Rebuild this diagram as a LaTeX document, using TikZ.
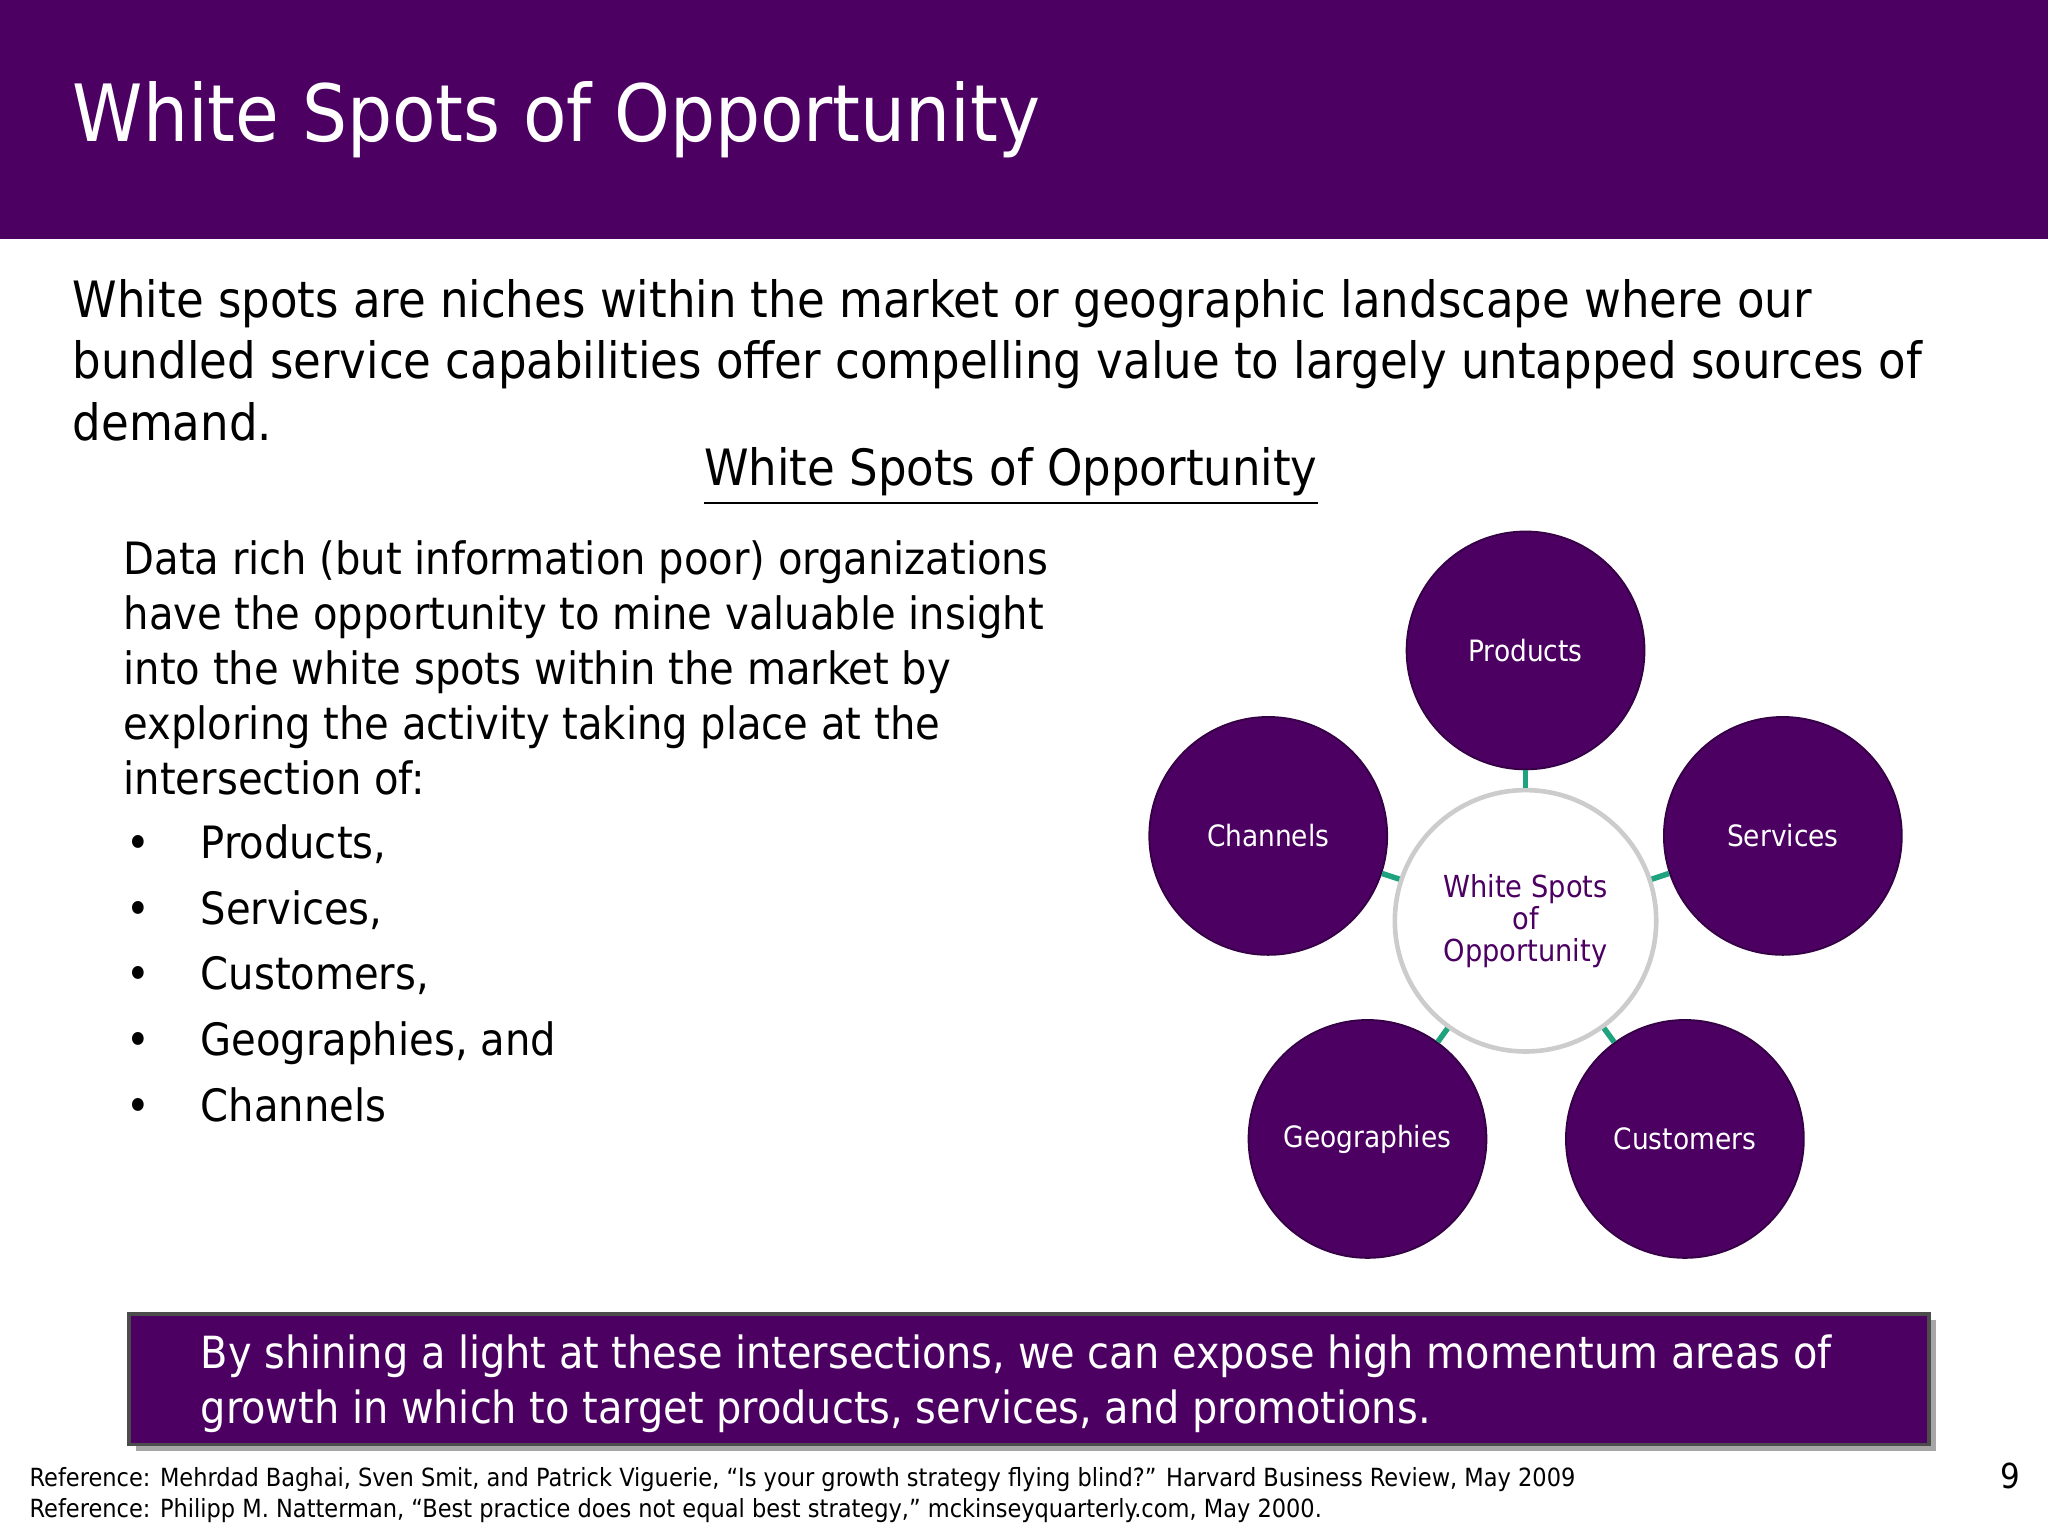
\documentclass[tikz,border=0pt]{standalone}
\usepackage{fontspec}
\setmainfont{DejaVu Sans Condensed}
\definecolor{purp}{HTML}{4B0062}
\definecolor{grn}{HTML}{1FA37E}
\begin{document}
\begin{tikzpicture}[x=0.01cm,y=-0.01cm,
  txt/.style={anchor=base west,inner sep=0},
  bub/.style={circle,fill=purp,draw=purp!70!black,minimum size=1.82cm,inner sep=0,text=white,font=\fontsize{6.4}{8}\selectfont},
  link/.style={grn,line width=1.2pt}]
\useasboundingbox (0,0) rectangle (1568,1176);
\fill[purp] (0,0) rectangle (1568,183);
\node[txt,text=white,font=\fontsize{17.2}{20}\selectfont] (title) at (55,108) {White Spots of Opportunity};
\node[txt,font=\fontsize{10.9}{13}\selectfont] (intro) at (55,243) {White spots are niches within the market or geographic landscape where our};
\node[txt,font=\fontsize{10.9}{13}\selectfont] (intro2) at (55,290) {bundled service capabilities offer compelling value to largely untapped sources of};
\node[txt,font=\fontsize{10.9}{13}\selectfont] (intro3) at (55,337) {demand.};
\node[anchor=base,inner sep=0,font=\fontsize{10.9}{13}\selectfont] (sub) at (774,372) {\underline{White Spots of Opportunity}};
\foreach \t [count=\i] in {Data rich (but information poor) organizations,have the opportunity to mine valuable insight,into the white spots within the market by,exploring the activity taking place at the,intersection of:}
  \node[txt,font=\fontsize{9.7}{12}\selectfont] (l\i) at (94,398+42*\i) {\t};
\foreach \t [count=\i] in {{Products,},{Services,},{Customers,},{Geographies, and},{Channels}}{
  \node[txt,font=\fontsize{9.7}{12}\selectfont] (bu\i) at (96,607+50.3*\i) {•};
  \node[txt,font=\fontsize{9.7}{12}\selectfont] (b\i) at (153,607+50.3*\i) {\t};}
\node[circle,fill=white,draw=gray!40,line width=1pt,minimum size=2.0cm,inner sep=0,text=purp,align=center,font=\fontsize{6.6}{7}\selectfont] (c) at (1168,705) {White Spots\\of\\Opportunity};
\node[bub] (p) at (1168,498) {Products};
\node[bub] (ch) at (971,640) {Channels};
\node[bub] (s) at (1365,640) {Services};
\node[bub] (g) at (1047,872) {Geographies};
\node[bub] (cu) at (1290,872) {Customers};
\foreach \n in {p,ch,s,g,cu} \draw[link] (c) -- (\n);
\fill[black!35] (104,1011) rectangle (1482,1111);
\draw[fill=purp,draw=black!70,line width=0.8pt] (99,1006) rectangle (1477,1106);
\node[txt,text=white,font=\fontsize{9.65}{12}\selectfont] (bt1) at (153,1048) {By shining a light at these intersections, we can expose high momentum areas of};
\node[txt,text=white,font=\fontsize{9.65}{12}\selectfont] (bt2) at (153,1090) {growth in which to target products, services, and promotions.};
\node[txt,font=\fontsize{5.45}{7}\selectfont] (r1) at (22,1138) {Reference: Mehrdad Baghai, Sven Smit, and Patrick Viguerie, “Is your growth strategy flying blind?” Harvard Business Review, May 2009};
\node[txt,font=\fontsize{5.45}{7}\selectfont] (r2) at (22,1162) {Reference: Philipp M. Natterman, “Best practice does not equal best strategy,” mckinseyquarterly.com, May 2000.};
\node[txt,font=\fontsize{7.5}{9}\selectfont] (pg) at (1531,1140) {9};
\end{tikzpicture}
\end{document}
